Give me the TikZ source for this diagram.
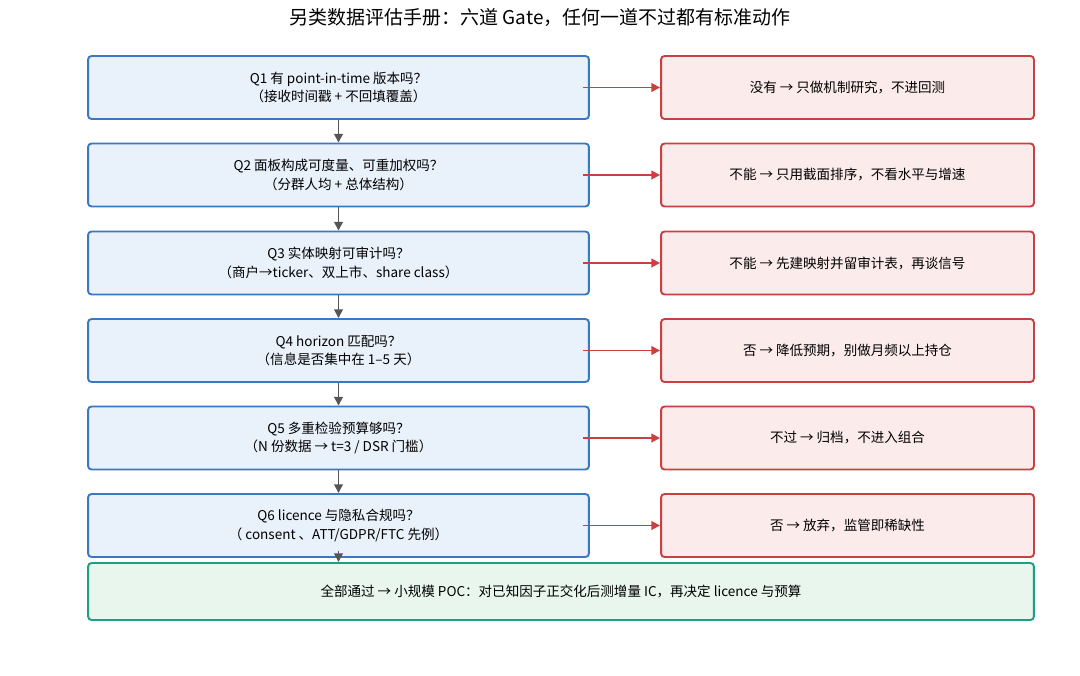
\documentclass[tikz,border=0pt]{standalone}
\usepackage{fontspec}
\setmainfont{Noto Sans CJK SC}
\usepackage{tikz}
\usetikzlibrary{arrows.meta,positioning}

\definecolor{qline}{HTML}{3A78C2}
\definecolor{qfill}{HTML}{E9F1FB}
\definecolor{nline}{HTML}{C94040}
\definecolor{nfill}{HTML}{FCEBEB}
\definecolor{gline}{HTML}{1F9E83}
\definecolor{gfill}{HTML}{E8F6EE}
\definecolor{dline}{HTML}{555555}

\tikzset{
  qbox/.style={draw=qline,fill=qfill,line width=1.1pt,rounded corners=2pt,minimum width=10.02cm,minimum height=1.26cm,align=center,font=\fontsize{7.7pt}{10.5pt}\selectfont},
  nbox/.style={draw=nline,fill=nfill,line width=1.1pt,rounded corners=2pt,minimum width=7.46cm,minimum height=1.26cm,align=center,font=\fontsize{7.7pt}{10.5pt}\selectfont},
  gbox/.style={draw=gline,fill=gfill,line width=1.1pt,rounded corners=2pt,minimum width=18.92cm,minimum height=1.14cm,align=center,font=\fontsize{7.7pt}{10.5pt}\selectfont},
  noarr/.style={-{Triangle[length=5pt,width=5pt]},draw=nline,line width=1pt},
  downarr/.style={-{Triangle[length=5pt,width=5pt]},draw=dline,line width=1pt}
}

\begin{document}
\begin{tikzpicture}[x=0.02cm,y=-0.02cm]
\useasboundingbox (0,0) rectangle (1080,676);

\node[font=\fontsize{10.8pt}{12pt}\selectfont] (title) at (540,18) {另类数据评估手册：六道 Gate，任何一道不过都有标准动作};

\node[qbox] (q1) at (338.5,87.5) {Q1 有 point-in-time 版本吗？\\（接收时间戳 + 不回填覆盖）};
\node[qbox] (q2) at (338.5,175) {Q2 面板构成可度量、可重加权吗？\\（分群人均 + 总体结构）};
\node[qbox] (q3) at (338.5,263) {Q3 实体映射可审计吗？\\（商户→ticker、双上市、share class）};
\node[qbox] (q4) at (338.5,350.5) {Q4 horizon 匹配吗？\\（信息是否集中在 1–5 天）};
\node[qbox] (q5) at (338.5,438) {Q5 多重检验预算够吗？\\（N 份数据 → t=3 / DSR 门槛）};
\node[qbox] (q6) at (338.5,525.5) {Q6 licence 与隐私合规吗？\\（ consent 、ATT/GDPR/FTC 先例）};

\node[nbox] (n1) at (847.5,87.5) {没有 → 只做机制研究，不进回测};
\node[nbox] (n2) at (847.5,175) {不能 → 只用截面排序，不看水平与增速};
\node[nbox] (n3) at (847.5,263) {不能 → 先建映射并留审计表，再谈信号};
\node[nbox] (n4) at (847.5,350.5) {否 → 降低预期，别做月频以上持仓};
\node[nbox] (n5) at (847.5,438) {不过 → 归档，不进入组合};
\node[nbox] (n6) at (847.5,525.5) {否 → 放弃，监管即稀缺性};

\node[gbox] (go) at (561,591.5) {全部通过 → 小规模 POC：对已知因子正交化后测增量 IC，再决定 licence 与预算};

% no-branches
\foreach \i in {1,...,6}
  \draw[noarr] ([xshift=-4pt]q\i.east) -- (n\i.west);

% main chain
\draw[downarr] (q1) -- (q2);
\draw[downarr] (q2) -- (q3);
\draw[downarr] (q3) -- (q4);
\draw[downarr] (q4) -- (q5);
\draw[downarr] (q5) -- (q6);
\draw[downarr] ([yshift=4pt]q6.south) -- (q6.south |- go.north);
\end{tikzpicture}
\end{document}
